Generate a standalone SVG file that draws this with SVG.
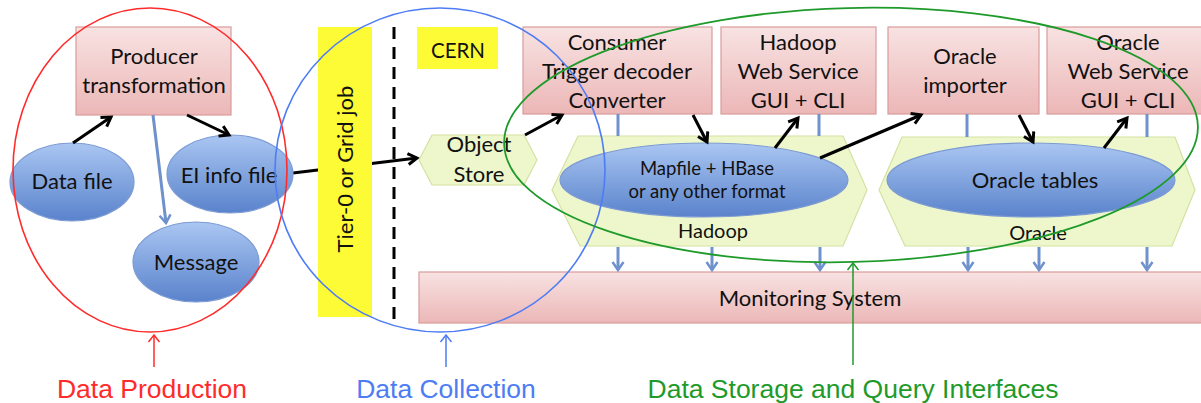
<svg xmlns="http://www.w3.org/2000/svg" width="1201" height="403" viewBox="0 0 1201 403">
<defs>
<linearGradient id="gPink" x1="0" y1="0" x2="0" y2="1"><stop offset="0" stop-color="#f8e2e2"/><stop offset="1" stop-color="#ecb7b7"/></linearGradient>
<linearGradient id="gBlue" x1="0" y1="0" x2="0" y2="1"><stop offset="0" stop-color="#aac6f2"/><stop offset="1" stop-color="#5a83cc"/></linearGradient>
<marker id="aBlack" markerUnits="userSpaceOnUse" markerWidth="16" markerHeight="16" refX="11" refY="7" orient="auto"><path d="M2,1.5 L11,7 L2,12.5" fill="none" stroke="#000" stroke-width="3"/></marker>
<marker id="aBlue" markerUnits="userSpaceOnUse" markerWidth="16" markerHeight="16" refX="10" refY="7" orient="auto"><path d="M2,1.5 L10,7 L2,12.5" fill="none" stroke="#6f92cd" stroke-width="2.5"/></marker>
<marker id="aRed" markerUnits="userSpaceOnUse" markerWidth="16" markerHeight="16" refX="9" refY="7" orient="auto"><path d="M2,1.5 L9,7 L2,12.5" fill="none" stroke="#ff2b2b" stroke-width="1.5"/></marker>
<marker id="aBlu2" markerUnits="userSpaceOnUse" markerWidth="16" markerHeight="16" refX="9" refY="7" orient="auto"><path d="M2,1.5 L9,7 L2,12.5" fill="none" stroke="#4d7cf5" stroke-width="1.5"/></marker>
<marker id="aGreen" markerUnits="userSpaceOnUse" markerWidth="16" markerHeight="16" refX="9" refY="7" orient="auto"><path d="M2,1.5 L9,7 L2,12.5" fill="none" stroke="#1e9a2a" stroke-width="1.5"/></marker>
</defs>
<style>
.box{fill:url(#gPink);stroke:#d99c9c;stroke-width:1.2}
.ell{fill:url(#gBlue);stroke:#7d9bd3;stroke-width:1.2}
.hex{fill:#eef7cb;stroke:#d3e1a2;stroke-width:1.2}
.yel{fill:#fdfb35}
.t{font-family:Lato,"Open Sans",sans-serif;font-size:22px;fill:#111;text-anchor:middle}
.ts{font-size:18.5px}
.blk{stroke:#000;stroke-width:3;fill:none}
.bl{stroke:#6f92cd;stroke-width:3;fill:none}
.lab{font-family:"Liberation Sans",Arial,sans-serif;font-size:26.5px;text-anchor:middle}
</style>
<rect width="1201" height="403" fill="#fff"/>

<g id="connectors-under">
<line class="blk" x1="293" y1="173" x2="417" y2="158" marker-end="url(#aBlack)"/>
</g>

<g id="tier0">
<rect class="yel" x="318" y="27" width="54" height="290"/>
<text class="t" transform="translate(353,169) rotate(-90)">Tier-0 or Grid job</text>
</g>
<line id="divider" x1="394" y1="27" x2="394" y2="323" stroke="#000" stroke-width="3" stroke-dasharray="12,8"/>
<g id="cern">
<rect class="yel" x="417" y="27" width="81" height="42"/>
<text class="t" x="458" y="58" style="font-size:20.5px">CERN</text>
</g>

<g id="producer">
<rect class="box" x="76" y="27" width="155" height="88"/>
<text class="t" x="154" y="64">Producer</text>
<text class="t" x="154" y="93">transformation</text>
</g>
<g id="datafile">
<ellipse class="ell" cx="72" cy="182" rx="62" ry="39"/>
<text class="t" x="72" y="189">Data file</text>
</g>
<g id="eiinfo">
<ellipse class="ell" cx="230" cy="174" rx="63" ry="39"/>
<text class="t" x="229" y="183">EI info file</text>
</g>
<g id="message">
<ellipse class="ell" cx="196" cy="262" rx="63" ry="40"/>
<text class="t" x="196" y="270">Message</text>
</g>

<g id="objectstore">
<polygon class="hex" points="419,160 432,135 524,135 537,160 524,185 432,185"/>
<text class="t" x="479" y="152">Object</text>
<text class="t" x="479" y="182">Store</text>
</g>

<g id="consumer">
<rect class="box" x="523" y="27" width="189" height="87"/>
<text class="t" x="617" y="50">Consumer</text>
<text class="t" x="617" y="79">Trigger decoder</text>
<text class="t" x="617" y="108">Converter</text>
</g>
<g id="hadoopws">
<rect class="box" x="721" y="27" width="155" height="87"/>
<text class="t" x="798" y="50">Hadoop</text>
<text class="t" x="798" y="79">Web Service</text>
<text class="t" x="798" y="108">GUI + CLI</text>
</g>
<g id="oracleimporter">
<rect class="box" x="888" y="27" width="151" height="87"/>
<text class="t" x="965" y="64">Oracle</text>
<text class="t" x="965" y="93">importer</text>
</g>
<g id="oraclews">
<rect class="box" x="1047" y="27" width="160" height="87"/>
<text class="t" x="1128" y="50">Oracle</text>
<text class="t" x="1128" y="79">Web Service</text>
<text class="t" x="1128" y="108">GUI + CLI</text>
</g>

<g id="hadoop">
<polygon class="hex" points="552,190 578,136 843,136 867,190 843,246 580,246"/>
<text class="t" x="713" y="238" style="font-size:20px">Hadoop</text>
</g>
<g id="mapfile">
<ellipse class="ell" cx="704" cy="180" rx="144" ry="37"/>
<text class="t ts" x="707" y="175">Mapfile + HBase</text>
<text class="t ts" x="707" y="198">or any other format</text>
</g>
<g id="oracle">
<polygon class="hex" points="879,190 902,137 1175,137 1195,190 1172,246 905,246"/>
<text class="t" x="1038" y="240" style="font-size:20px">Oracle</text>
</g>
<g id="oracletables">
<ellipse class="ell" cx="1031" cy="180" rx="144" ry="37"/>
<text class="t" x="1035" y="188">Oracle tables</text>
</g>

<g id="monitoring">
<rect class="box" x="419" y="272" width="790" height="51"/>
<text class="t" x="810" y="306">Monitoring System</text>
</g>

<g id="connectors">
<line class="blk" x1="73" y1="143" x2="111" y2="117" marker-end="url(#aBlack)"/>
<line class="blk" x1="187" y1="115" x2="229" y2="135" marker-end="url(#aBlack)"/>
<line class="bl" x1="153" y1="115" x2="166" y2="223" marker-end="url(#aBlue)"/>
<line class="blk" x1="525" y1="135" x2="562" y2="115" marker-end="url(#aBlack)"/>
<line class="blk" x1="693" y1="115" x2="707" y2="142" marker-end="url(#aBlack)"/>
<line class="blk" x1="775" y1="148" x2="798" y2="118" marker-end="url(#aBlack)"/>
<line class="blk" x1="820" y1="158" x2="921" y2="115" marker-end="url(#aBlack)"/>
<line class="blk" x1="1019" y1="115" x2="1033" y2="142" marker-end="url(#aBlack)"/>
<line class="blk" x1="1104" y1="148" x2="1127" y2="118" marker-end="url(#aBlack)"/>
<line class="bl" x1="618" y1="114" x2="618" y2="136"/>
<line class="bl" x1="819" y1="114" x2="819" y2="136"/>
<line class="bl" x1="967" y1="114" x2="967" y2="137"/>
<line class="bl" x1="1147" y1="114" x2="1147" y2="137"/>
<line class="bl" x1="618" y1="247" x2="618" y2="270" marker-end="url(#aBlue)"/>
<line class="bl" x1="712" y1="247" x2="712" y2="270" marker-end="url(#aBlue)"/>
<line class="bl" x1="820" y1="247" x2="820" y2="270" marker-end="url(#aBlue)"/>
<line class="bl" x1="968" y1="247" x2="968" y2="270" marker-end="url(#aBlue)"/>
<line class="bl" x1="1039" y1="247" x2="1039" y2="270" marker-end="url(#aBlue)"/>
<line class="bl" x1="1147" y1="247" x2="1147" y2="270" marker-end="url(#aBlue)"/>
</g>

<g id="groups">
<ellipse cx="150" cy="170" rx="137" ry="162" fill="none" stroke="#ff2b2b" stroke-width="1.6"/>
<ellipse cx="440" cy="170" rx="165" ry="162" fill="none" stroke="#4d7cf5" stroke-width="1.6"/>
<ellipse cx="851" cy="135" rx="347" ry="127" fill="none" stroke="#1e9a2a" stroke-width="1.8" transform="rotate(-1.5 851 135)"/>
<line x1="154" y1="367" x2="154" y2="335" stroke="#ff2b2b" stroke-width="1.5" marker-end="url(#aRed)"/>
<line x1="446" y1="367" x2="446" y2="335" stroke="#4d7cf5" stroke-width="1.5" marker-end="url(#aBlu2)"/>
<line x1="853" y1="365" x2="853" y2="263" stroke="#1e9a2a" stroke-width="1.5" marker-end="url(#aGreen)"/>
<text class="lab" x="152" y="398" fill="#ff2b2b">Data Production</text>
<text class="lab" x="446" y="398" fill="#4d7cf5">Data Collection</text>
<text class="lab" x="853" y="398" fill="#1e9a2a">Data Storage and Query Interfaces</text>
</g>
</svg>
